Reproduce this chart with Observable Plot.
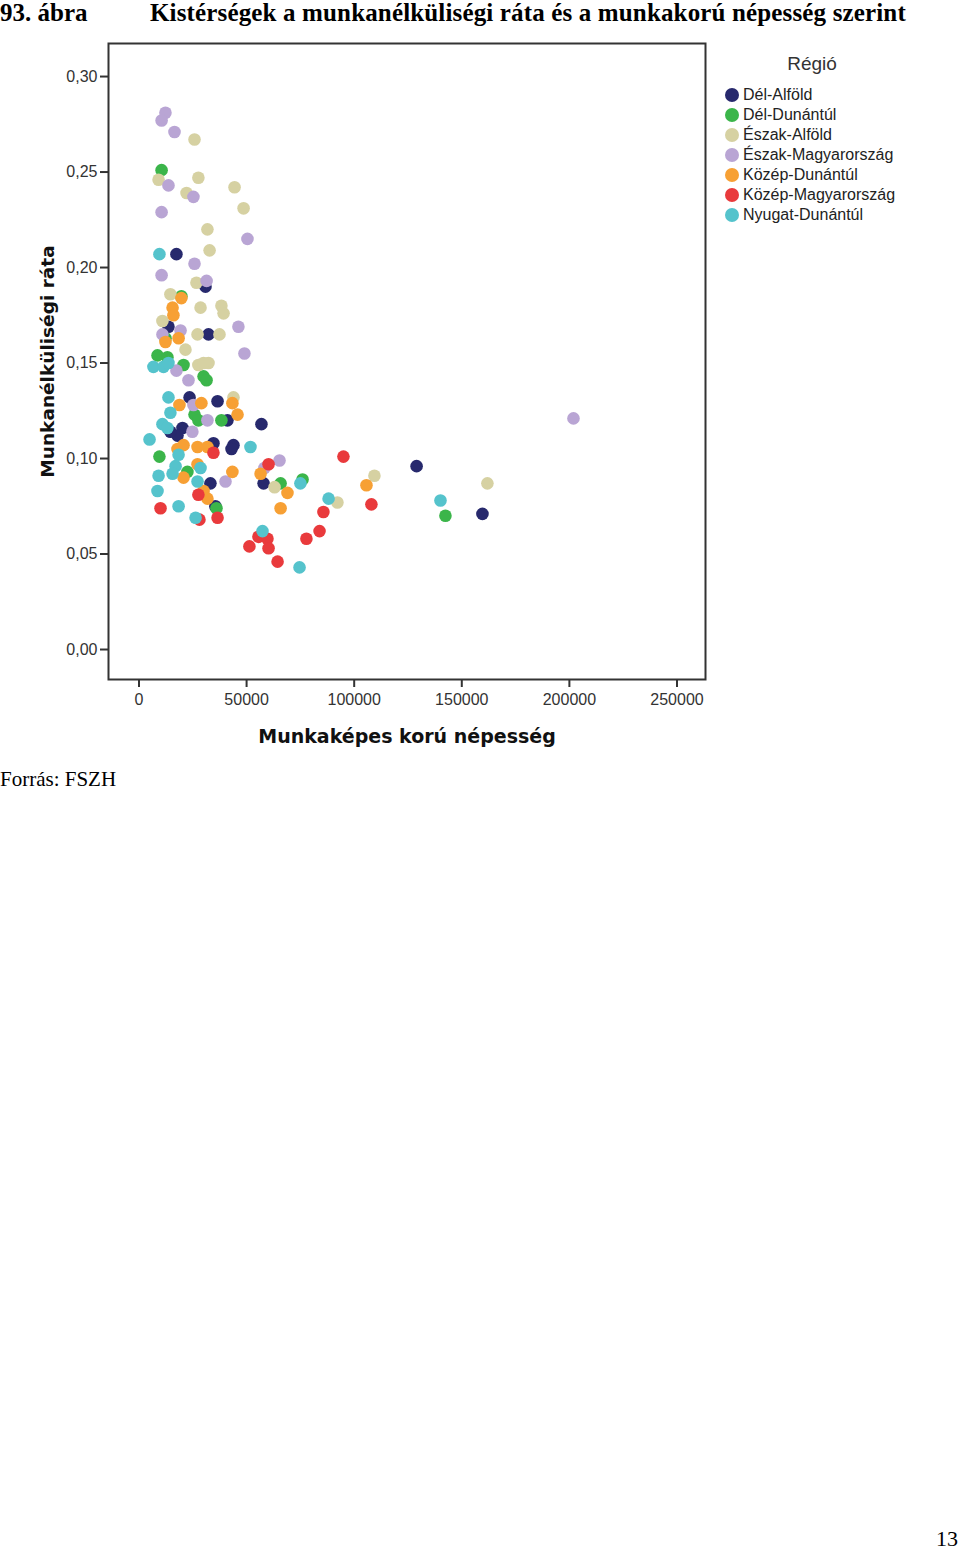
<!DOCTYPE html>
<html>
<head>
<meta charset="utf-8">
<script src="https://cdn.jsdelivr.net/npm/d3@7"></script>
<script src="https://cdn.jsdelivr.net/npm/@observablehq/plot@0.6"></script>
<style>
  html, body { margin: 0; padding: 0; background: #fff; }
  #page { position: relative; width: 960px; height: 1550px; background: #fff; overflow: hidden; }
  .serif { font-family: "Liberation Serif", "Times New Roman", serif; color: #000; position: absolute; white-space: nowrap; line-height: 1.15; }
  #num { left: 0; top: -1px; font-size: 25px; font-weight: bold; }
  #title { left: 150px; top: -1px; font-size: 25px; font-weight: bold; letter-spacing: 0.15px; }
  #chart { position: absolute; left: 0; top: 28px; }
  #legend { position: absolute; left: 722px; top: 53px; font-family: "Liberation Sans", Arial, sans-serif; color: #222; }
  #legend .lt { font-size: 19px; text-align: center; width: 180px; margin-bottom: 10px; color: #333; line-height: 22px; }
  #legend .it { position: relative; height: 20px; line-height: 20px; font-size: 16px; padding-left: 21px; }
  #legend .sw { position: absolute; left: 3px; top: 3px; width: 14px; height: 14px; border-radius: 50%; }
  #source { left: 0; top: 767px; font-size: 21px; }
  #pg { left: 936px; top: 1526px; font-size: 22px; }
</style>
</head>
<body>
<div id="page">
  <div id="num" class="serif">93. ábra</div>
  <div id="title" class="serif">Kistérségek a munkanélküliségi ráta és a munkakorú népesség szerint</div>
  <div id="chart"></div>
  <div id="legend"></div>
  <div id="source" class="serif">Forrás: FSZH</div>
  <div id="pg" class="serif">13</div>
</div>
<script>
// ---- data ----
const regions = ["Dél-Alföld", "Dél-Dunántúl", "Észak-Alföld", "Észak-Magyarország", "Közép-Dunántúl", "Közép-Magyarország", "Nyugat-Dunántúl"];
const regionColors = ["#27296d", "#3bb54a", "#d6d1a2", "#b9a5d4", "#f7a034", "#e93a3c", "#55c3cc"];
const xTicks = [0, 50000, 100000, 150000, 200000, 250000];
const yTicks = [0, 0.05, 0.10, 0.15, 0.20, 0.25, 0.30];

// [munkaképes korú népesség, munkanélküliségi ráta]
const delAlfold = [[17400,0.207],[30900,0.190],[32300,0.165],[13700,0.169],[23500,0.132],[36500,0.130],[41100,0.120],[56900,0.118],[20200,0.116],[17900,0.112],[14600,0.114],[34600,0.108],[43900,0.107],[43000,0.105],[33200,0.087],[57900,0.087],[35500,0.075],[129000,0.096],[159600,0.071]];
const delDunantul = [[10500,0.251],[19700,0.185],[12300,0.163],[8600,0.154],[13200,0.153],[20700,0.149],[30000,0.143],[31400,0.141],[25800,0.123],[27600,0.120],[38300,0.120],[9500,0.101],[22500,0.093],[36000,0.074],[65800,0.087],[76000,0.089],[142400,0.070]];
const eszakAlfold = [[25800,0.267],[9100,0.246],[27600,0.247],[22100,0.239],[44400,0.242],[48600,0.231],[31800,0.220],[32800,0.209],[26700,0.192],[14600,0.186],[28600,0.179],[38300,0.180],[39300,0.176],[10900,0.172],[27200,0.165],[37400,0.165],[21600,0.157],[27600,0.149],[32300,0.150],[30000,0.150],[43900,0.132],[109400,0.091],[161900,0.087],[92200,0.077],[63000,0.085]];
const eszakMagyarorszag = [[12300,0.281],[10500,0.277],[16500,0.271],[13700,0.243],[25300,0.237],[10500,0.229],[50400,0.215],[10500,0.196],[25800,0.202],[31400,0.193],[46200,0.169],[49000,0.155],[10900,0.165],[19300,0.167],[17400,0.146],[23000,0.141],[25300,0.128],[31800,0.120],[24800,0.114],[40200,0.088],[65300,0.099],[58300,0.095],[201900,0.121]];
const kozepDunantul = [[19700,0.184],[15600,0.179],[18400,0.163],[12300,0.161],[16000,0.175],[18800,0.128],[29000,0.129],[43400,0.129],[45800,0.123],[17900,0.105],[20700,0.107],[27200,0.106],[31800,0.106],[27200,0.097],[20700,0.090],[30000,0.083],[31800,0.079],[43400,0.093],[56500,0.092],[69000,0.082],[65800,0.074],[105700,0.086]];
const kozepMagyarorszag = [[34600,0.103],[27600,0.081],[10000,0.074],[36500,0.069],[60200,0.097],[51300,0.054],[55500,0.059],[59700,0.058],[60200,0.053],[64400,0.046],[77800,0.058],[83900,0.062],[85700,0.072],[95000,0.101],[108000,0.076],[28100,0.068]];
const nyugatDunantul = [[9500,0.207],[6700,0.148],[11400,0.148],[13700,0.150],[13700,0.132],[14600,0.124],[10900,0.118],[13200,0.116],[4900,0.110],[18400,0.102],[17000,0.096],[15600,0.092],[9100,0.091],[28600,0.095],[27200,0.088],[8600,0.083],[18400,0.075],[26300,0.069],[51800,0.106],[57400,0.062],[74600,0.043],[75000,0.087],[88100,0.079],[140100,0.078]];

const seriesList = [delAlfold, delDunantul, eszakAlfold, eszakMagyarorszag, kozepDunantul, kozepMagyarorszag, nyugatDunantul];
const table = seriesList.flatMap((pts, i) => pts.map(([x, y]) => ({region: regions[i], x, y})));

const fmtY = d => d3.format(".2f")(d).replace(".", ",");

const chart = Plot.plot({
  width: 960,
  height: 742,
  marginTop: 15,
  marginBottom: 91,
  marginLeft: 108,
  marginRight: 255,
  style: {fontFamily: "'Liberation Sans', Arial, sans-serif", fontSize: "16px", color: "#333", background: "white"},
  x: {domain: [-14170, 263250]},
  y: {domain: [-0.0157, 0.3173]},
  color: {domain: regions, range: regionColors},
  marks: [
    Plot.axisX({ticks: xTicks, tickSize: 8, tickPadding: 6, tickFormat: d => String(d), label: null, stroke: "#333", strokeWidth: 2}),
    Plot.axisY({ticks: yTicks, tickSize: 8, tickPadding: 3, tickFormat: fmtY, label: null, stroke: "#333", strokeWidth: 2}),
    Plot.dot(table, {x: "x", y: "y", fill: "region", r: 6.3}),
    Plot.frame({stroke: "#333", strokeWidth: 2}),
    Plot.text(["Munkaképes korú népesség"], {frameAnchor: "bottom", dy: 57, lineAnchor: "middle", textAnchor: "middle", text: d => d, fontSize: 19, fontWeight: "bold", fill: "#111", fontFamily: "'DejaVu Sans', Verdana, sans-serif"}),
    Plot.text(["Munkanélküliségi ráta"], {frameAnchor: "left", dx: -60, rotate: -90, lineAnchor: "middle", textAnchor: "middle", text: d => d, fontSize: 18.5, fontWeight: "bold", fill: "#111", fontFamily: "'DejaVu Sans', Verdana, sans-serif"})
  ]
});
document.getElementById("chart").appendChild(chart);

// legend
const lg = document.getElementById("legend");
const t = document.createElement("div");
t.className = "lt";
t.textContent = "Régió";
lg.appendChild(t);
regions.forEach((r, i) => {
  const it = document.createElement("div");
  it.className = "it";
  const sw = document.createElement("span");
  sw.className = "sw";
  sw.style.background = regionColors[i];
  it.appendChild(sw);
  it.appendChild(document.createTextNode(r));
  lg.appendChild(it);
});
</script>
</body>
</html>
